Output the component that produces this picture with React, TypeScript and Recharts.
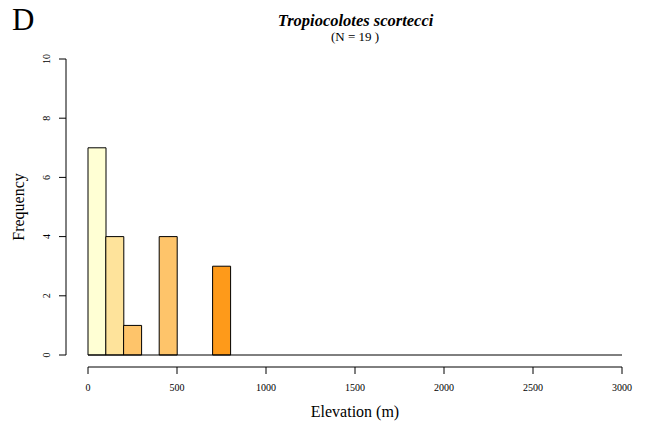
import React from "react";
import {
  ComposedChart, Bar, Cell, XAxis, YAxis, ReferenceLine,
} from "recharts";

// histogram of elevation records, 100 m bins from 0 to 3000 m
const BIN_WIDTH = 100;
const counts = [
  7, 4, 1, 0, 4, 0, 0, 3, 0, 0,
  0, 0, 0, 0, 0, 0, 0, 0, 0, 0,
  0, 0, 0, 0, 0, 0, 0, 0, 0, 0,
];
const binFills = [
  "#FFFFD4", "#FEE39B", "#FEC46A", "#FEC46A", "#FEC46A", "#FEC46A", "#FE9A1A", "#FE9A1A",
];
const xTicks = [0, 500, 1000, 1500, 2000, 2500, 3000];
const yTicks = [0, 2, 4, 6, 8, 10];

const title = "Tropiocolotes scortecci";
const subtitle = "(N = 19 )";
const panel = "D";

const SERIF = "'Liberation Serif', 'DejaVu Serif', serif";

// R style detached axes: leave a little room left of 0 and below 0
const X_MIN = -123.6;
const Y_MIN = -0.405;

const data = counts.map((c, i) => ({
  mid: i * BIN_WIDTH + BIN_WIDTH / 2,
  count: c,
}));

const XTick = (props: any) => {
  const { x, payload } = props;
  return (
    <text x={x} y={391} textAnchor="middle" fontSize={10} fontFamily={SERIF} fill="#000">
      {payload.value}
    </text>
  );
};

const YTick = (props: any) => {
  const { y, payload } = props;
  return (
    <text
      x={50}
      y={y}
      transform={`rotate(-90, 50, ${y})`}
      textAnchor="middle"
      fontSize={10}
      fontFamily={SERIF}
      fill="#000"
    >
      {payload.value}
    </text>
  );
};

export default function App() {
  return (
    <div style={{ position: "absolute", left: 0, top: 0, width: 646, height: 423, background: "#fff" }}>
      <ComposedChart
        width={646}
        height={423}
        data={data}
        margin={{ top: 59, right: 24, left: 26, bottom: 16 }}
        barCategoryGap={0}
        barGap={0}
      >
        <XAxis
          dataKey="mid"
          type="number"
          domain={[X_MIN, 3000]}
          allowDataOverflow
          ticks={xTicks}
          height={40}
          axisLine={false}
          tickSize={7}
          tickLine={{ stroke: "#000" }}
          tick={<XTick />}
          interval={0}
        />
        <YAxis
          type="number"
          domain={[Y_MIN, 10]}
          allowDataOverflow
          ticks={yTicks}
          width={40}
          axisLine={false}
          tickSize={7}
          tickLine={{ stroke: "#000" }}
          tick={<YTick />}
          interval={0}
        />
        <Bar dataKey="count" stroke="#000" strokeWidth={1} isAnimationActive={false}>
          {data.map((d, i) => (
            <Cell key={i} fill={binFills[i] ?? "#FE9A1A"} />
          ))}
        </Bar>
        <ReferenceLine
          segment={[{ x: 0, y: 0 }, { x: 3000, y: 0 }]}
          stroke="#000"
          ifOverflow="visible"
        />
        <ReferenceLine
          segment={[{ x: 0, y: Y_MIN }, { x: 3000, y: Y_MIN }]}
          stroke="#000"
          ifOverflow="visible"
        />
        <ReferenceLine
          segment={[{ x: X_MIN, y: 0 }, { x: X_MIN, y: 10 }]}
          stroke="#000"
          ifOverflow="visible"
        />
        <text x={12} y={29.5} fontSize={31} fontFamily={SERIF} fill="#000">{panel}</text>
        <text x={355.5} y={26} textAnchor="middle" fontSize={16.5} fontWeight="bold" fontStyle="italic" fontFamily={SERIF} fill="#000">
          {title}
        </text>
        <text x={355} y={40.5} textAnchor="middle" fontSize={13} fontFamily={SERIF} fill="#000">
          {subtitle}
        </text>
        <text x={355} y={417} textAnchor="middle" fontSize={16} fontFamily={SERIF} fill="#000">
          Elevation (m)
        </text>
        <text
          x={24}
          y={207}
          transform="rotate(-90, 24, 207)"
          textAnchor="middle"
          fontSize={16}
          fontFamily={SERIF}
          fill="#000"
        >
          Frequency
        </text>
      </ComposedChart>
    </div>
  );
}
